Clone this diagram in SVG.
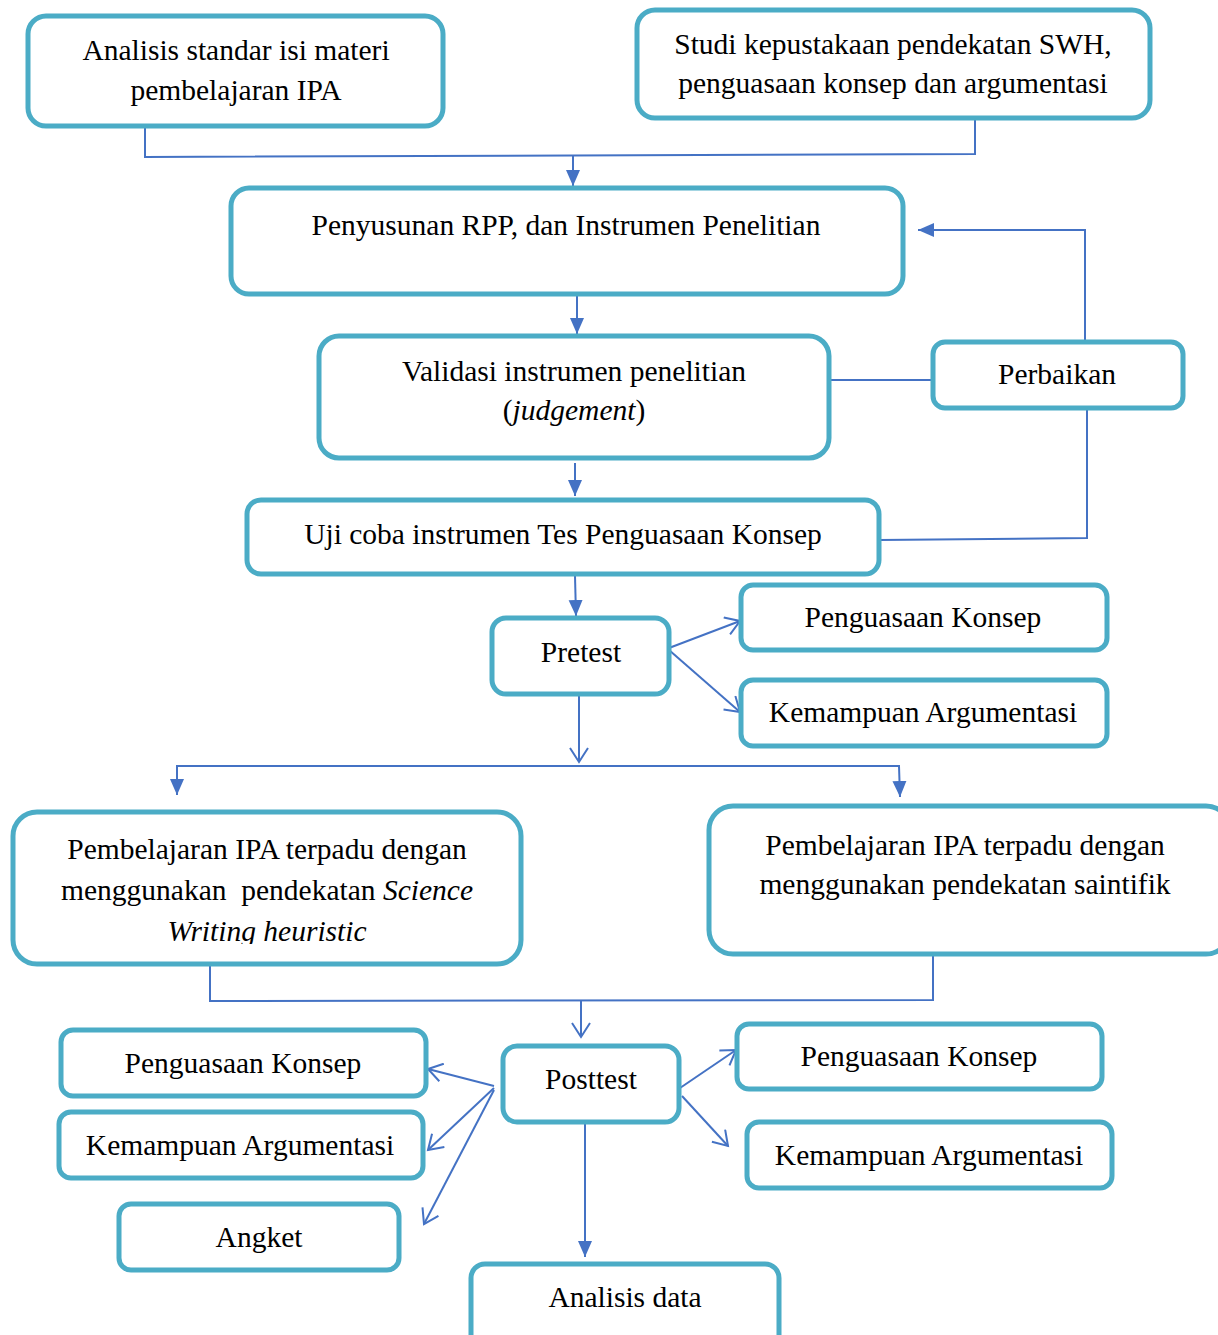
<svg xmlns="http://www.w3.org/2000/svg" width="1218" height="1335" viewBox="0 0 1218 1335">
<style>
.box{fill:#fff;stroke:#4BACC6;stroke-width:5}
.t{font-family:"Liberation Serif","Times New Roman",serif;font-size:29.5px;fill:#000;text-anchor:middle}
.c{fill:none;stroke:#4472C4;stroke-width:2}
</style>
<defs>
<marker id="fa" markerUnits="userSpaceOnUse" markerWidth="18" markerHeight="16" refX="16" refY="8" orient="auto"><path d="M0,1 L16,8 L0,15 Z" fill="#4472C4"/></marker>
<marker id="oa" markerUnits="userSpaceOnUse" markerWidth="18" markerHeight="20" refX="15" refY="10" orient="auto"><path d="M1,1 L15,10 L1,19" fill="none" stroke="#4472C4" stroke-width="2"/></marker>
<clipPath id="clipswh"><rect x="0" y="800" width="540" height="144"/></clipPath>
</defs>
<rect width="1218" height="1335" fill="#fff"/>

<g id="connectors">
<polyline class="c" points="145,126 145,157 975,154 975,118"/>
<line class="c" x1="573" y1="155" x2="573" y2="186" marker-end="url(#fa)"/>
<line class="c" x1="577" y1="294" x2="577" y2="334" marker-end="url(#fa)"/>
<line class="c" x1="575" y1="463" x2="575" y2="496" marker-end="url(#fa)"/>
<line class="c" x1="575" y1="576" x2="576" y2="616" marker-end="url(#fa)"/>
<line class="c" x1="829" y1="380" x2="933" y2="380"/>
<polyline class="c" points="1085,342 1085,230 918,230" marker-end="url(#fa)"/>
<polyline class="c" points="1087,408 1087,538 879,540"/>
<line class="c" x1="669" y1="648" x2="740" y2="621" marker-end="url(#oa)"/>
<line class="c" x1="669" y1="650" x2="740" y2="712" marker-end="url(#oa)"/>
<line class="c" x1="579" y1="690" x2="579" y2="762" marker-end="url(#oa)"/>
<polyline class="c" points="177,795 177,766 899,766 900,797" marker-end="url(#fa)"/>
<line class="c" x1="177" y1="770" x2="177" y2="795" marker-end="url(#fa)"/>
<polyline class="c" points="210,964 210,1001 933,1000 933,954"/>
<line class="c" x1="581" y1="1001" x2="581" y2="1037" marker-end="url(#oa)"/>
<line class="c" x1="494" y1="1086" x2="428" y2="1069" marker-end="url(#oa)"/>
<line class="c" x1="494" y1="1088" x2="428" y2="1150" marker-end="url(#oa)"/>
<line class="c" x1="494" y1="1090" x2="424" y2="1224" marker-end="url(#oa)"/>
<line class="c" x1="680" y1="1088" x2="736" y2="1050" marker-end="url(#oa)"/>
<line class="c" x1="682" y1="1096" x2="728" y2="1146" marker-end="url(#oa)"/>
<line class="c" x1="585" y1="1122" x2="585" y2="1257" marker-end="url(#fa)"/>
</g>

<g id="n-analisis">
<rect class="box" x="28" y="16" width="415" height="110" rx="18"/>
<text class="t" x="236" y="60">Analisis standar isi materi</text>
<text class="t" x="236" y="100">pembelajaran IPA</text>
</g>
<g id="n-studi">
<rect class="box" x="637" y="10" width="513" height="108" rx="18"/>
<text class="t" x="893" y="54">Studi kepustakaan pendekatan SWH,</text>
<text class="t" x="893" y="93">penguasaan konsep dan argumentasi</text>
</g>
<g id="n-penyusunan">
<rect class="box" x="231" y="188" width="672" height="106" rx="18"/>
<text class="t" x="566" y="235">Penyusunan RPP, dan Instrumen Penelitian</text>
</g>
<g id="n-validasi">
<rect class="box" x="319" y="336" width="510" height="122" rx="20"/>
<text class="t" x="574" y="381">Validasi instrumen penelitian</text>
<text class="t" x="574" y="420">(<tspan font-style="italic">judgement</tspan>)</text>
</g>
<g id="n-ujicoba">
<rect class="box" x="247" y="500" width="632" height="74" rx="14"/>
<text class="t" x="563" y="544">Uji coba instrumen Tes Penguasaan Konsep</text>
</g>
<g id="n-perbaikan">
<rect class="box" x="933" y="342" width="250" height="66" rx="12"/>
<text class="t" x="1057" y="384">Perbaikan</text>
</g>
<g id="n-pretest">
<rect class="box" x="492" y="618" width="177" height="76" rx="14"/>
<text class="t" x="581" y="662">Pretest</text>
</g>
<g id="n-pre-konsep">
<rect class="box" x="741" y="585" width="366" height="65" rx="12"/>
<text class="t" x="923" y="627">Penguasaan Konsep</text>
</g>
<g id="n-pre-argumen">
<rect class="box" x="741" y="680" width="366" height="66" rx="12"/>
<text class="t" x="923" y="722">Kemampuan Argumentasi</text>
</g>
<g id="n-swh">
<rect class="box" x="13" y="812" width="508" height="152" rx="24"/>
<text class="t" x="267" y="859">Pembelajaran IPA terpadu dengan</text>
<text class="t" x="267" y="900" xml:space="preserve">menggunakan  pendekatan <tspan font-style="italic">Science</tspan></text>
<text class="t" x="267" y="941" font-style="italic" clip-path="url(#clipswh)">Writing heuristic</text>
</g>
<g id="n-saintifik">
<rect class="box" x="709" y="806" width="521" height="148" rx="24"/>
<text class="t" x="965" y="855">Pembelajaran IPA terpadu dengan</text>
<text class="t" x="965" y="894">menggunakan pendekatan saintifik</text>
</g>
<g id="n-posttest">
<rect class="box" x="503" y="1046" width="176" height="76" rx="14"/>
<text class="t" x="591" y="1089">Posttest</text>
</g>
<g id="n-post-konsep-l">
<rect class="box" x="61" y="1030" width="365" height="66" rx="12"/>
<text class="t" x="243" y="1073">Penguasaan Konsep</text>
</g>
<g id="n-post-argumen-l">
<rect class="box" x="59" y="1112" width="364" height="66" rx="12"/>
<text class="t" x="240" y="1155">Kemampuan Argumentasi</text>
</g>
<g id="n-angket">
<rect class="box" x="119" y="1204" width="280" height="66" rx="12"/>
<text class="t" x="259" y="1247">Angket</text>
</g>
<g id="n-post-konsep-r">
<rect class="box" x="737" y="1024" width="365" height="65" rx="12"/>
<text class="t" x="919" y="1066">Penguasaan Konsep</text>
</g>
<g id="n-post-argumen-r">
<rect class="box" x="747" y="1122" width="365" height="66" rx="12"/>
<text class="t" x="929" y="1165">Kemampuan Argumentasi</text>
</g>
<g id="n-analisisdata">
<rect class="box" x="471" y="1264" width="308" height="90" rx="14"/>
<text class="t" x="625" y="1307">Analisis data</text>
</g>
</svg>
